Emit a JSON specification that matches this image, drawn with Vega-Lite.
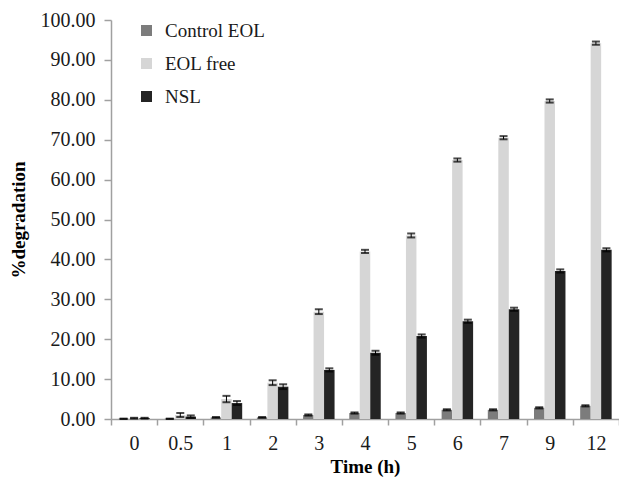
{
  "$schema": "https://vega.github.io/schema/vega-lite/v6.json",
  "autosize": {"type": "none"},
  "padding": {"left": 111, "top": 20, "right": 0, "bottom": 58},
  "width": 508,
  "height": 399,
  "background": "white",
  "config": {
    "view": {"stroke": null},
    "font": "Liberation Serif",
    "axis": {
      "labelFont": "Liberation Serif",
      "labelFontSize": 20,
      "labelColor": "#1a1a1a",
      "titleFont": "Liberation Serif",
      "titleFontSize": 19,
      "titleFontWeight": "bold",
      "titleColor": "#000000",
      "domainColor": "#a0a0a0",
      "tickColor": "#a0a0a0",
      "domainWidth": 1.5,
      "tickWidth": 1.5,
      "grid": false,
      "labelOverlap": false
    }
  },
  "data": {
    "values": [
      {"time": "0", "series": "Control EOL", "value": 0.05, "err": 0.05},
      {"time": "0", "series": "EOL free", "value": 0.2, "err": 0.1},
      {"time": "0", "series": "NSL", "value": 0.2, "err": 0.1},
      {"time": "0.5", "series": "Control EOL", "value": 0.05, "err": 0.05},
      {"time": "0.5", "series": "EOL free", "value": 1.0, "err": 0.5},
      {"time": "0.5", "series": "NSL", "value": 0.6, "err": 0.3},
      {"time": "1", "series": "Control EOL", "value": 0.4, "err": 0.1},
      {"time": "1", "series": "EOL free", "value": 5.0, "err": 0.8},
      {"time": "1", "series": "NSL", "value": 4.0, "err": 0.5},
      {"time": "2", "series": "Control EOL", "value": 0.4, "err": 0.1},
      {"time": "2", "series": "EOL free", "value": 9.1, "err": 0.6},
      {"time": "2", "series": "NSL", "value": 8.1, "err": 0.6},
      {"time": "3", "series": "Control EOL", "value": 1.0, "err": 0.15},
      {"time": "3", "series": "EOL free", "value": 26.9, "err": 0.6},
      {"time": "3", "series": "NSL", "value": 12.3, "err": 0.4},
      {"time": "4", "series": "Control EOL", "value": 1.5, "err": 0.15},
      {"time": "4", "series": "EOL free", "value": 42.0, "err": 0.4},
      {"time": "4", "series": "NSL", "value": 16.6, "err": 0.5},
      {"time": "5", "series": "Control EOL", "value": 1.5, "err": 0.15},
      {"time": "5", "series": "EOL free", "value": 46.0, "err": 0.5},
      {"time": "5", "series": "NSL", "value": 20.8, "err": 0.4},
      {"time": "6", "series": "Control EOL", "value": 2.3, "err": 0.15},
      {"time": "6", "series": "EOL free", "value": 64.9, "err": 0.4},
      {"time": "6", "series": "NSL", "value": 24.5, "err": 0.4},
      {"time": "7", "series": "Control EOL", "value": 2.3, "err": 0.15},
      {"time": "7", "series": "EOL free", "value": 70.5, "err": 0.4},
      {"time": "7", "series": "NSL", "value": 27.5, "err": 0.4},
      {"time": "9", "series": "Control EOL", "value": 2.8, "err": 0.15},
      {"time": "9", "series": "EOL free", "value": 79.7, "err": 0.4},
      {"time": "9", "series": "NSL", "value": 37.1, "err": 0.4},
      {"time": "12", "series": "Control EOL", "value": 3.3, "err": 0.15},
      {"time": "12", "series": "EOL free", "value": 94.2, "err": 0.4},
      {"time": "12", "series": "NSL", "value": 42.4, "err": 0.4}
    ]
  },
  "encoding": {
    "x": {
      "field": "time",
      "type": "nominal",
      "sort": ["0", "0.5", "1", "2", "3", "4", "5", "6", "7", "9", "12"],
      "scale": {"paddingInner": 0, "paddingOuter": 0},
      "axis": {
        "title": "Time (h)",
        "labelAngle": 0,
        "tickBand": "extent",
        "tickSize": 6,
        "labelPadding": 8,
        "titlePadding": 4
      }
    },
    "xOffset": {
      "field": "series",
      "type": "nominal",
      "sort": ["Control EOL", "EOL free", "NSL"],
      "scale": {"paddingInner": 0, "paddingOuter": 0.7}
    },
    "y": {
      "field": "value",
      "type": "quantitative",
      "title": "%degradation",
      "scale": {"domain": [0, 100], "nice": false},
      "axis": {
        "title": "%degradation",
        "values": [0, 10, 20, 30, 40, 50, 60, 70, 80, 90, 100],
        "format": ".2f",
        "tickSize": 7,
        "labelPadding": 9,
        "titlePadding": 12
      }
    }
  },
  "layer": [
    {
      "mark": {"type": "bar"},
      "encoding": {
        "color": {
          "field": "series",
          "type": "nominal",
          "scale": {
            "domain": ["Control EOL", "EOL free", "NSL"],
            "range": ["#7c7c7c", "#d6d6d6", "#242424"]
          },
          "legend": {
            "title": null,
            "orient": "none",
            "legendX": 26,
            "legendY": 1,
            "padding": 0,
            "symbolType": "square",
            "symbolSize": 121,
            "symbolStrokeWidth": 0,
            "labelFont": "Liberation Serif",
            "labelFontSize": 19,
            "labelColor": "#1a1a1a",
            "labelOffset": 9,
            "rowPadding": 13
          }
        }
      }
    },
    {
      "mark": {
        "type": "errorbar",
        "ticks": {"size": 8, "color": "#000000", "thickness": 2},
        "rule": {"color": "#000000", "strokeWidth": 1}
      },
      "encoding": {
        "yError": {"field": "err"}
      }
    }
  ]
}
